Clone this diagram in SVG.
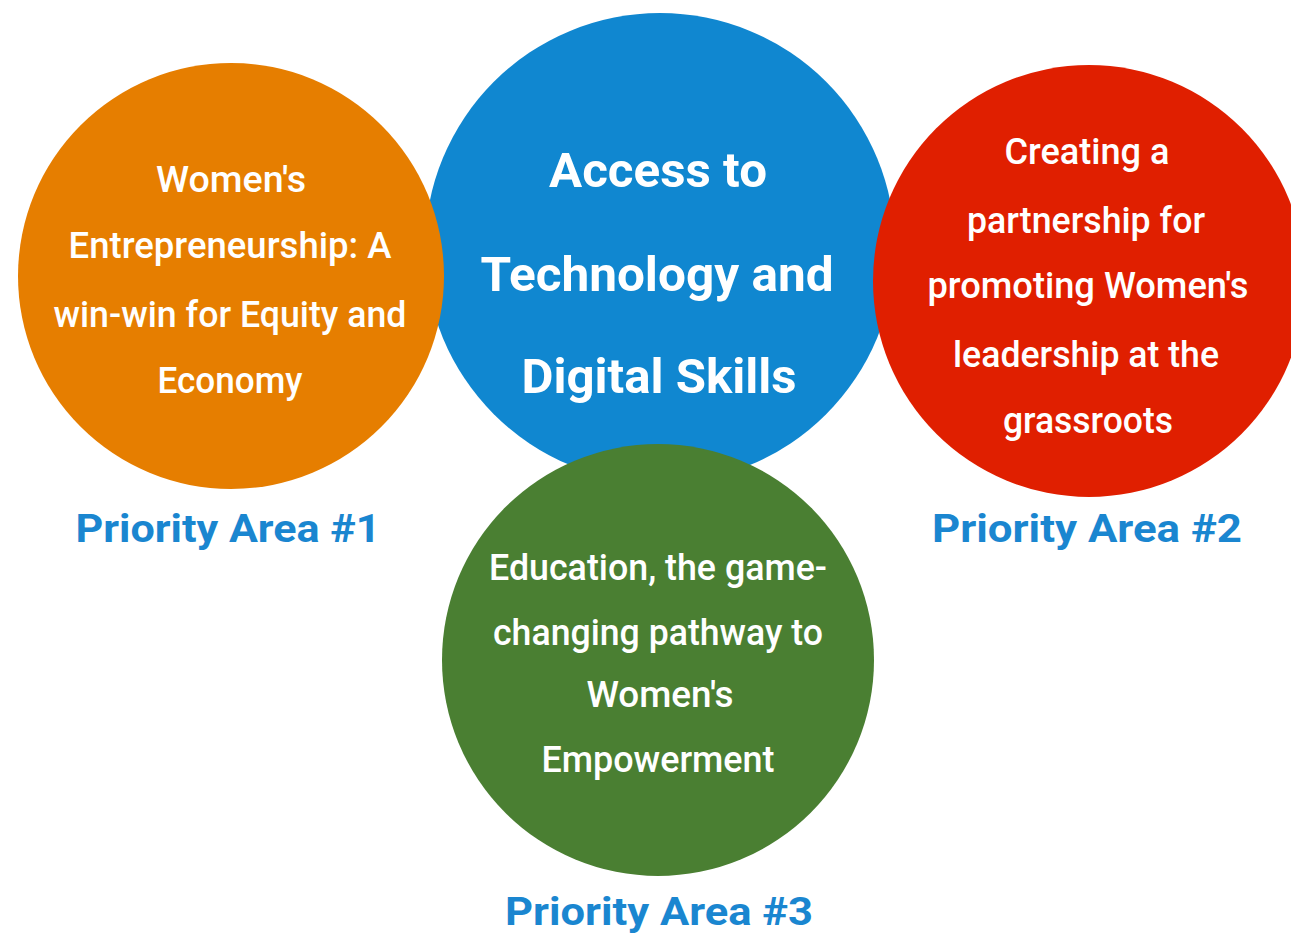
<svg xmlns="http://www.w3.org/2000/svg" width="1291" height="935" viewBox="0 0 1291 935">
<style>
.t{font-family:Roboto,"Liberation Sans",sans-serif;fill:#fff;text-anchor:middle;font-weight:500;font-size:36px}
.b{font-family:Roboto,"Liberation Sans",sans-serif;fill:#fff;text-anchor:middle;font-weight:700;font-size:48px}
.l{font-family:Roboto,"Liberation Sans",sans-serif;fill:#1a86d0;text-anchor:middle;font-weight:700;font-size:39px}
</style>
<rect width="1291" height="935" fill="#fff"/>
<g id="node-blue">
<circle cx="660" cy="248" r="235" fill="#1087d0"/>
<text class="b" x="658" y="187" textLength="218" lengthAdjust="spacingAndGlyphs">Access to</text>
<text class="b" x="657" y="291" textLength="353" lengthAdjust="spacingAndGlyphs">Technology and</text>
<text class="b" x="659" y="393" textLength="275" lengthAdjust="spacingAndGlyphs">Digital Skills</text>
</g>
<g id="node-orange">
<circle cx="231" cy="276" r="213" fill="#e67e00"/>
<text class="t" x="231" y="192" textLength="150" lengthAdjust="spacingAndGlyphs">Women's</text>
<text class="t" x="230" y="258" textLength="323" lengthAdjust="spacingAndGlyphs">Entrepreneurship: A</text>
<text class="t" x="230" y="327" textLength="353" lengthAdjust="spacingAndGlyphs">win-win for Equity and</text>
<text class="t" x="230" y="393" textLength="145" lengthAdjust="spacingAndGlyphs">Economy</text>
</g>
<g id="node-red">
<circle cx="1089" cy="281" r="216" fill="#e01f00"/>
<text class="t" x="1087" y="164" textLength="165" lengthAdjust="spacingAndGlyphs">Creating a</text>
<text class="t" x="1086" y="233" textLength="238" lengthAdjust="spacingAndGlyphs">partnership for</text>
<text class="t" x="1088" y="298" textLength="321" lengthAdjust="spacingAndGlyphs">promoting Women's</text>
<text class="t" x="1086" y="367" textLength="266" lengthAdjust="spacingAndGlyphs">leadership at the</text>
<text class="t" x="1088" y="433" textLength="170" lengthAdjust="spacingAndGlyphs">grassroots</text>
</g>
<g id="node-green">
<circle cx="658" cy="660" r="216" fill="#4a7f32"/>
<text class="t" x="658" y="580" textLength="338" lengthAdjust="spacingAndGlyphs">Education, the game-</text>
<text class="t" x="658" y="645" textLength="330" lengthAdjust="spacingAndGlyphs">changing pathway to</text>
<text class="t" x="660" y="707" textLength="147" lengthAdjust="spacingAndGlyphs">Women's</text>
<text class="t" x="658" y="772" textLength="233" lengthAdjust="spacingAndGlyphs">Empowerment</text>
</g>
<g id="labels">
<text class="l" x="228" y="542" textLength="305" lengthAdjust="spacingAndGlyphs">Priority Area #1</text>
<text class="l" x="1087" y="542" textLength="310" lengthAdjust="spacingAndGlyphs">Priority Area #2</text>
<text class="l" x="659" y="925" textLength="308" lengthAdjust="spacingAndGlyphs">Priority Area #3</text>
</g>
<g id="connectors"/>
</svg>
